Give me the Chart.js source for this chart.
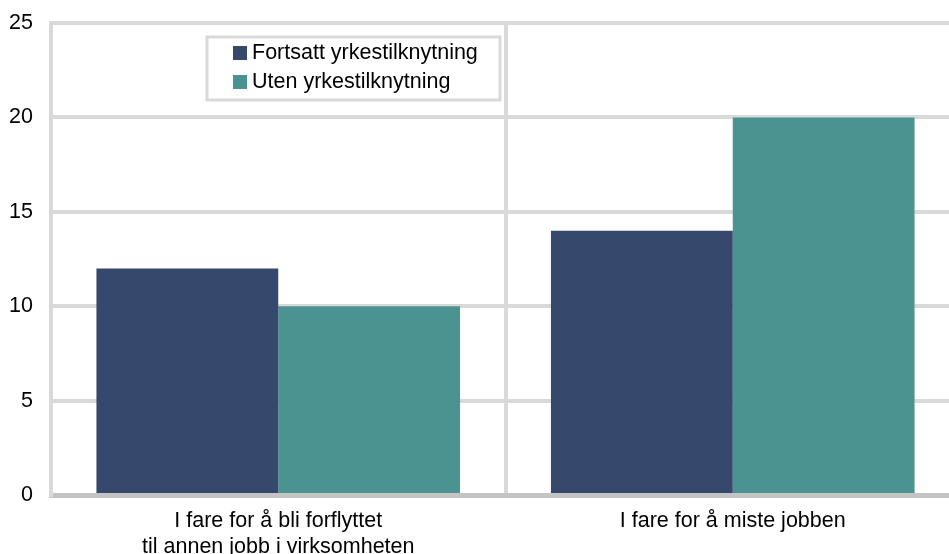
<!DOCTYPE html>
<html>
<head>
<meta charset="utf-8">
<script src="https://cdn.jsdelivr.net/npm/chart.js@4"></script>
<style>
  html, body { margin: 0; padding: 0; overflow: hidden; background: #fff; }
  #wrap { width: 960px; height: 554px; }
</style>
</head>
<body>
<div id="wrap"><canvas id="chart" width="960" height="554"></canvas></div>
<script>
// data
var categories = [
    ['I fare for å bli forflyttet', 'til annen jobb i virksomheten'],
    'I fare for å miste jobben'
];
var seriesNames = ['Fortsatt yrkestilknytning', 'Uten yrkestilknytning'];
var fortsatt = [12, 14];
var uten = [10, 20];
var yTicks = [0, 5, 10, 15, 20, 25];

var colors = ['#36486b', '#4b9390'];
var FONT = '"Liberation Sans", Arial, sans-serif';
var FSIZE = 21.5;

// legend box inside the plot
var boxLegend = {
    id: 'boxLegend',
    afterDraw: function (chart) {
        var ctx = chart.ctx;
        ctx.save();
        ctx.fillStyle = '#fff';
        ctx.fillRect(207, 37, 293, 63);
        ctx.strokeStyle = '#d9d9d9';
        ctx.lineWidth = 3;
        ctx.strokeRect(207, 37, 293, 63);
        ctx.font = FSIZE + 'px ' + FONT;
        ctx.textBaseline = 'middle';
        chart.data.datasets.forEach(function (ds, i) {
            var cy = 53 + i * 29;
            ctx.fillStyle = ds.backgroundColor;
            ctx.fillRect(233, cy - 7, 14, 14);
            ctx.fillStyle = '#000';
            ctx.fillText(ds.label, 252, cy);
        });
        ctx.restore();
    }
};

var ctx = document.getElementById('chart').getContext('2d');
var chart = new Chart(ctx, {
    type: 'bar',
    data: {
        labels: categories,
        datasets: [
            { label: seriesNames[0], data: fortsatt, backgroundColor: colors[0] },
            { label: seriesNames[1], data: uten, backgroundColor: colors[1] }
        ]
    },
    options: {
        responsive: false,
        animation: false,
        layout: { padding: { top: 23, right: 0, left: 0, bottom: 0 } },
        plugins: { legend: { display: false }, tooltip: { enabled: false } },
        datasets: { bar: { categoryPercentage: 0.8, barPercentage: 1.0 } },
        scales: {
            x: {
                z: 1,
                grid: { color: '#d9d9d9', lineWidth: 4, drawTicks: false },
                border: { color: '#c4c4c4', width: 5 },
                ticks: {
                    color: '#000',
                    padding: 13,
                    maxRotation: 0,
                    font: { family: FONT, size: FSIZE, lineHeight: 1.2 }
                },
                afterFit: function (s) { s.height = 59; }
            },
            y: {
                min: 0,
                max: 25,
                afterBuildTicks: function (s) {
                    s.ticks = yTicks.map(function (v) { return { value: v }; });
                },
                grid: {
                    drawTicks: false,
                    lineWidth: 4,
                    color: function (c) { return c.tick && c.tick.value === 0 ? 'rgba(0,0,0,0)' : '#d9d9d9'; }
                },
                border: { color: '#d9d9d9', width: 4 },
                ticks: {
                    color: '#000',
                    padding: 18,
                    font: { family: FONT, size: FSIZE }
                },
                afterFit: function (s) {
                    s.width = 51;
                    s.paddingTop = 0;
                    s.paddingBottom = 0;
                }
            }
        }
    },
    plugins: [boxLegend]
});
</script>
</body>
</html>
